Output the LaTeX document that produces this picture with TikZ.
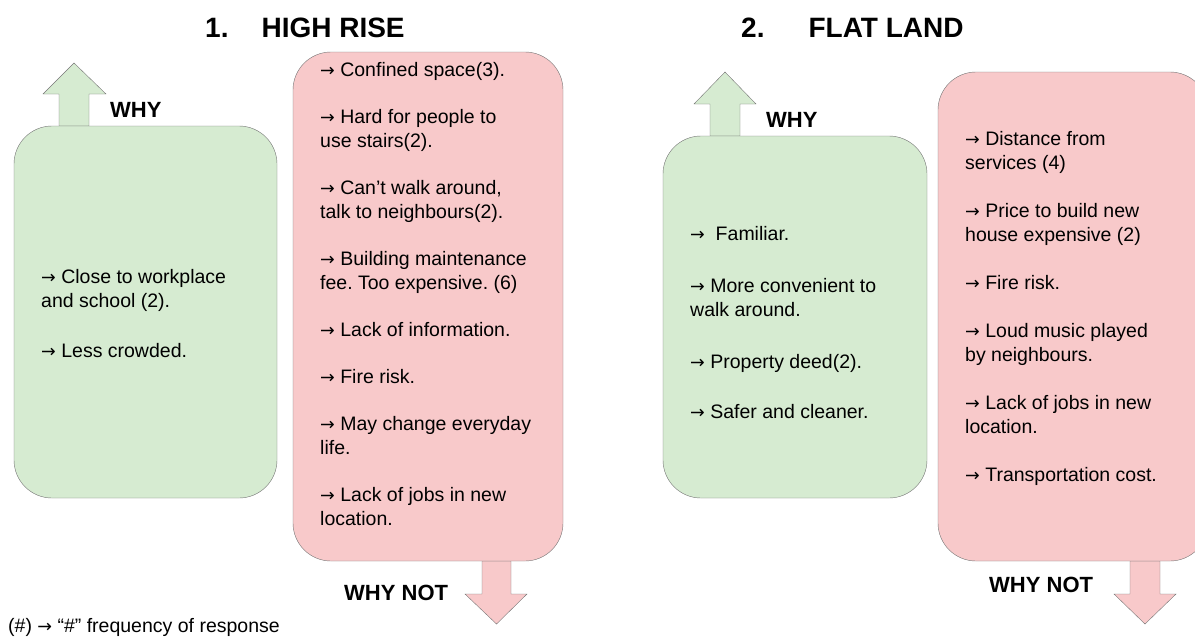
\documentclass[tikz,border=0pt]{standalone}
\usepackage{fontspec}
\setmainfont{Liberation Sans}
\newfontfamily\arrowfont[Scale=0.9]{DejaVu Sans}
\newcommand\rarr{{\arrowfont →}}
\frenchspacing
\usetikzlibrary{positioning}
\definecolor{whygreen}{HTML}{D6EBD1}
\definecolor{notpink}{HTML}{F8C9CA}
\definecolor{edgegray}{HTML}{757575}

\begin{document}
\begin{tikzpicture}[x=1pt, y=-1pt, gbox/.style={draw=edgegray, fill=whygreen, rounded corners=38pt, inner sep=0}, pbox/.style={draw=edgegray, fill=notpink, rounded corners=38pt, inner sep=0}, items/.style={anchor=north west, inner sep=0, align=left, font=\fontsize{19.5}{24}\selectfont}, head/.style={anchor=base west, inner sep=0, font=\fontsize{28}{32}\selectfont\bfseries}, tag/.style={anchor=base west, inner sep=0, font=\fontsize{22}{26}\selectfont\bfseries}]
	\path[use as bounding box, clip] (0,0) rectangle (1195,638);
	\node[head] (hrtitle) at (205,37) {1.\hspace{33pt}HIGH RISE};
	\node[head] (fltitle) at (741,37) {2.\hspace{44pt}FLAT LAND};
	\draw[draw=edgegray, fill=whygreen] (59,126) -- (59,94) -- (43,94) -- (74,63) -- (106,94) -- (89,94) -- (89,126) -- cycle;
	\draw[draw=edgegray, fill=whygreen] (710,136) -- (710,104) -- (694,104) -- (725,72) -- (756,104) -- (740,104) -- (740,136) -- cycle;
	\draw[draw=edgegray, fill=notpink] (482,561) -- (482,594) -- (465,594) -- (496.5,624) -- (527,594) -- (511,594) -- (511,561) -- cycle;
	\draw[draw=edgegray, fill=notpink] (1130,561) -- (1130,594) -- (1114,594) -- (1145,624) -- (1176,594) -- (1160,594) -- (1160,561) -- cycle;
	\node[gbox, minimum width=263pt, minimum height=372pt] (hrwhy) at (145.5,312) {};
	\node[pbox, minimum width=270pt, minimum height=509pt] (hrnot) at (428,306.5) {};
	\node[gbox, minimum width=264pt, minimum height=362pt] (flwhy) at (795,317) {};
	\node[pbox, minimum width=270pt, minimum height=489pt] (flnot) at (1073,316.5) {};
	\node[tag] (hrwhytag) at (110,117) {WHY};
	\node[tag] (flwhytag) at (766,127) {WHY};
	\node[tag] (hrnottag) at (344,600) {WHY NOT};
	\node[tag] (flnottag) at (989,592) {WHY NOT};
	\node[items] (hrwhytext) at (41,269) {\rarr{} Close to workplace\\and school (2).\\[26pt]\rarr{} Less crowded.};
	\node[items] (hrnottext) at (320,62) {\rarr{} Confined space(3).\\[23pt]\rarr{} Hard for people to\\use stairs(2).\\[23pt]\rarr{} Can’t walk around,\\talk to neighbours(2).\\[23pt]\rarr{} Building maintenance\\fee. Too expensive. (6)\\[23pt]\rarr{} Lack of information.\\[23pt]\rarr{} Fire risk.\\[23pt]\rarr{} May change everyday\\life.\\[23pt]\rarr{} Lack of jobs in new\\location.};
	\node[items] (flwhytext) at (690,226) {\rarr{}~ Familiar.\\[28pt]\rarr{} More convenient to\\walk around.\\[28pt]\rarr{} Property deed(2).\\[26pt]\rarr{} Safer and cleaner.};
	\node[items] (flnottext) at (965,131) {\rarr{} Distance from\\services (4)\\[24pt]\rarr{} Price to build new\\house expensive (2)\\[24pt]\rarr{} Fire risk.\\[24pt]\rarr{} Loud music played\\by neighbours.\\[24pt]\rarr{} Lack of jobs in new\\location.\\[24pt]\rarr{} Transportation cost.};
	\node[anchor=base west, inner sep=0, font=\fontsize{19.5}{24}\selectfont] (note) at (8,632) {(\#) \rarr{} “\#” frequency of response};
\end{tikzpicture}
\end{document}
